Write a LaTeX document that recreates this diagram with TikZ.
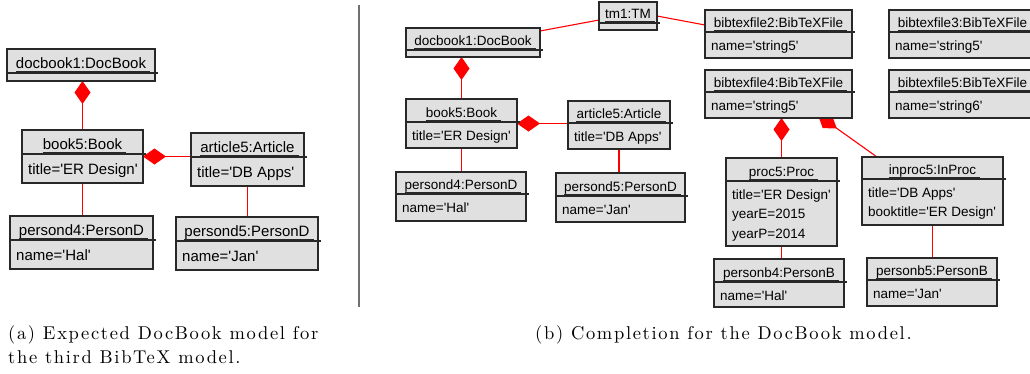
\documentclass[tikz,border=0pt]{standalone}
\usepackage{fontspec}
\newfontfamily\boxfont{Liberation Sans}[Ligatures=TeXOff]
\newfontfamily\capfont{lmroman10-regular}[Extension=.otf, LetterSpace=9]
\usetikzlibrary{arrows.meta,calc}
\definecolor{objfill}{RGB}{224,224,224}
\definecolor{objdraw}{RGB}{40,40,40}
\definecolor{sepgray}{RGB}{112,112,112}
\pgfdeclarelayer{bg}\pgfsetlayers{bg,main}
\newcommand\fsz{13.5}
\newcommand\aoff{18}
\newcommand\asp{19.5}
\newcommand\toff{4.3}
% #1 name, #2 x1, #3 y1, #4 x2, #5 y2, #6 divider y, #7 title, #8 attributes
\newcommand\uobj[8]{%
  \node[objbox, minimum width={(#4-#2)*1pt}, minimum height={(#5-#3)*1pt}] (#1) at ({(#2+#4)/2},{(#3+#5)/2}) {};
  \draw[objline] (#2,#6) -- ({#4+2.5},#6);
  \node[objtext, anchor=base] (#1-t) at ({(#2+#4)/2},{#6-\toff}) {#7};
  \draw[objline, line width=0.8pt] ([yshift=-3pt]#1-t.base west) -- ([yshift=-3pt,xshift=4pt]#1-t.base east);
  \foreach \a [count=\i from 0] in {#8} {%
    \node[objtext, anchor=base west] (#1-a\i) at ({#2+6},{#6+\aoff+\i*\asp}) {\a};}%
}
\begin{document}
\begin{tikzpicture}[x=1pt,y=-1pt,
  objbox/.style={draw=objdraw, fill=objfill, line width=1.3pt, inner sep=0pt, outer sep=0pt},
  objline/.style={draw=objdraw, line width=1.1pt},
  objtext/.style={font=\boxfont\fontsize{\fsz}{\fsz}\selectfont, inner sep=0pt, text=black},
  link/.style={draw=red, line width=1.1pt},
  comp/.style={link, -{Diamond[length=23pt,width=16pt,fill=red]}},
  compstart/.style={link, {Diamond[length=23pt,width=16pt,fill=red]}-},
  sepline/.style={draw=sepgray, line width=2pt},
  captext/.style={font=\capfont\fontsize{18.5}{22}\selectfont, inner sep=0pt, text=black}]
\useasboundingbox (0,0) rectangle (1030,373);
\clip (0,0) rectangle (1030,373);

% left panel
\renewcommand\fsz{15}\renewcommand\aoff{20.5}\renewcommand\asp{22}\renewcommand\toff{5}
\uobj{ldb}{7}{49}{155}{81}{73}{docbook1:DocBook}{}
\uobj{lbook}{22}{130}{143}{183}{154}{book5:Book}{title='ER Design'}
\uobj{lart}{191}{133}{304}{186}{157}{article5:Article}{title='DB Apps'}
\uobj{lp4}{10}{216}{153}{269}{240}{persond4:PersonD}{name='Hal'}
\uobj{lp5}{176}{217}{318}{270}{241}{persond5:PersonD}{name='Jan'}

% right panel
\renewcommand\fsz{13.5}\renewcommand\aoff{18}\renewcommand\asp{19.5}\renewcommand\toff{4.3}
\uobj{rtm}{599}{2}{657}{30}{23}{tm1:TM}{}
\uobj{rdb}{406}{28}{540}{57}{50}{docbook1:DocBook}{}
\uobj{rbook}{406}{99}{517}{148}{122}{book5:Book}{title='ER Design'}
\uobj{rart}{568}{101}{670}{149}{123}{article5:Article}{title='DB Apps'}
\uobj{rp4}{396}{172}{526}{221}{194}{persond4:PersonD}{name='Hal'}
\uobj{rp5}{556}{173}{685}{222}{196}{persond5:PersonD}{name='Jan'}
\uobj{bib2}{705}{10}{852}{58}{32}{bibtexfile2:BibTeXFile}{name='string5'}
\uobj{bib3}{889}{10}{1036}{58}{32}{bibtexfile3:BibTeXFile}{name='string5'}
\uobj{bib4}{705}{70}{852}{118}{92}{bibtexfile4:BibTeXFile}{name='string5'}
\uobj{bib5}{889}{70}{1036}{118}{92}{bibtexfile5:BibTeXFile}{name='string6'}
\uobj{proc}{726}{158}{837}{246}{181}{proc5:Proc}{title='ER Design',yearE=2015,yearP=2014}
\uobj{inproc}{862}{157}{1003}{225}{179}{inproc5:InProc}{title='DB Apps',booktitle='ER Design'}
\uobj{pb4}{714}{259}{844}{307}{282}{personb4:PersonB}{name='Hal'}
\uobj{pb5}{867}{258}{997}{306}{280}{personb5:PersonB}{name='Jan'}

\begin{pgfonlayer}{bg}
  \draw[comp] (lbook.north) -- (lbook.north |- ldb.south);
  \draw[compstart] (lbook.east) -- (lbook.east -| lart.west);
  \draw[link] (lbook.south) -- (lbook.south |- lp4.north);
  \draw[link] (lart.south) -- (lart.south |- lp5.north);
  \draw[link] ([yshift=-3pt]rdb.north east) -- ([yshift=-4pt]rtm.west);
  \draw[link] (rtm.east) -- ([yshift=-15pt]bib2.north west);
  \draw[comp] (rbook.north) -- (rbook.north |- rdb.south);
  \draw[compstart] (rbook.east) -- (rbook.east -| rart.west);
  \draw[link] (rbook.south) -- (rbook.south |- rp4.north);
  \draw[link] (rart.south) -- (rart.south |- rp5.north);
  \draw[comp] (proc.north) -- (proc.north |- bib4.south);
  \draw[compstart] ([xshift=39.5pt,yshift=3pt]bib4.south) -- ([xshift=-55.5pt]inproc.north);
  \draw[link] (proc.south) -- (proc.south |- pb4.north);
  \draw[link] (inproc.south) -- (inproc.south |- pb5.north);
\end{pgfonlayer}

\draw[sepline] (359,5) -- (359,307);

\node[captext, anchor=base west] (capa1) at (8,339) {(a) Expected DocBook model for};
\node[captext, anchor=base west] (capa2) at (8,363) {the third BibTeX model.};
\node[captext, anchor=base west] (capb) at (535,339) {(b) Completion for the DocBook model.};
\end{tikzpicture}
\end{document}
